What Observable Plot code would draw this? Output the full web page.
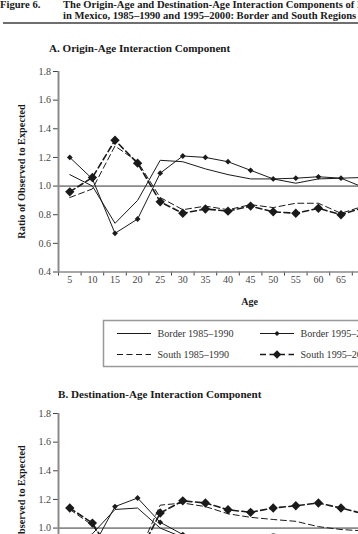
<!DOCTYPE html>
<html>
<head>
<meta charset="utf-8">
<script src="https://cdn.jsdelivr.net/npm/d3@7"></script>
<script src="https://cdn.jsdelivr.net/npm/@observablehq/plot@0.6"></script>
<style>
  html, body { margin: 0; padding: 0; background: #fff; }
  body { width: 358px; height: 534px; overflow: hidden; position: relative; font-family: "Liberation Serif", serif; }
  .panel { position: absolute; left: 0; width: 400px; }
  .panel svg { max-width: none !important; display: block; }
  #overlay { position: absolute; left: 0; top: 0; pointer-events: none; }
</style>
</head>
<body>
<div id="panelA" class="panel" style="top:60px"></div>
<div id="panelB" class="panel" style="top:401.5px"></div>
<svg id="overlay" width="358" height="534"></svg>
<script>
// Age groups (start of five-year interval)
const ages = [5, 10, 15, 20, 25, 30, 35, 40, 45, 50, 55, 60, 65, 70];
const yTicks = [0.4, 0.6, 0.8, 1.0, 1.2, 1.4, 1.6, 1.8];

// A. Origin-age interaction component (ratio of observed to expected)
const originBorder8590 = [1.08, 1.00, 0.74, 0.90, 1.18, 1.17, 1.12, 1.08, 1.05, 1.05, 1.02, 1.05, 1.055, 1.06];
const originBorder9500 = [1.20, 1.05, 0.67, 0.77, 1.09, 1.21, 1.20, 1.17, 1.11, 1.05, 1.055, 1.065, 1.055, 0.99];
const originSouth8590  = [0.92, 0.98, 1.28, 1.17, 0.92, 0.835, 0.86, 0.835, 0.87, 0.85, 0.88, 0.88, 0.81, 0.86];
const originSouth9500  = [0.96, 1.06, 1.32, 1.16, 0.89, 0.81, 0.84, 0.825, 0.86, 0.82, 0.81, 0.845, 0.80, 0.85];

// B. Destination-age interaction component
const destBorder8590 = [0.88, 0.96, 1.13, 1.14, 1.00, 0.935, 0.90, 0.90, 0.91, 0.96, 0.92, 0.91, 0.90, 0.90];
const destBorder9500 = [0.90, 0.86, 1.15, 1.21, 1.04, 0.955, 0.90, 0.88, 0.89, 0.90, 0.89, 0.88, 0.87, 0.87];
const destSouth8590  = [1.13, 1.02, 0.80, 0.81, 1.16, 1.175, 1.15, 1.10, 1.075, 1.06, 1.047, 1.01, 0.99, 0.98];
const destSouth9500  = [1.14, 1.035, 0.78, 0.80, 1.105, 1.19, 1.175, 1.128, 1.11, 1.14, 1.156, 1.175, 1.14, 1.10];

const seriesNames = ["Border 1985–1990", "Border 1995–2000", "South 1985–1990", "South 1995–2000"];

const INK = "#1a1a1a";
const AXIS = "#8a8a8a";
const DASH = "6,3.5";
const FONT = "Liberation Serif, Times New Roman, serif";

// Category boundaries: tick marks sit between the age labels
const halfStep = (ages[1] - ages[0]) / 2;
const bounds = [ages[0] - halfStep, ...ages.map(a => a + halfStep)];

function rows(values) { return ages.map((age, i) => ({age, value: values[i]})); }

// One panel; `visibleHeight` trims the SVG where the page ends
function panel(sets, visibleHeight) {
  const [b85, b95, s85, s95] = sets.map(rows);
  const top = 11, plotH = 200.5, left = 58, band = 22.6;
  const full = visibleHeight >= top + plotH + 20;
  const shownTicks = yTicks.filter(v => top + plotH * (1.8 - v) / 1.4 <= visibleHeight - 4);
  const marks = [
    Plot.ruleY([1], {stroke: "#333", strokeWidth: 1}),
    Plot.line(s85, {x: "age", y: "value", stroke: INK, strokeWidth: 1, strokeDasharray: DASH}),
    Plot.line(s95, {x: "age", y: "value", stroke: INK, strokeWidth: 1.6, strokeDasharray: DASH}),
    Plot.dot(s95, {x: "age", y: "value", symbol: "diamond2", r: 4.2, fill: INK, stroke: "none"}),
    Plot.line(b85, {x: "age", y: "value", stroke: INK, strokeWidth: 1}),
    Plot.line(b95, {x: "age", y: "value", stroke: INK, strokeWidth: 1}),
    Plot.dot(b95, {x: "age", y: "value", symbol: "diamond2", r: 2.6, fill: INK, stroke: "none"}),
    Plot.ruleX([bounds[0]], {stroke: AXIS, strokeWidth: 2})
  ];
  if (full) {
    marks.push(
      Plot.ruleY([0.4], {stroke: AXIS, strokeWidth: 1.5}),
      Plot.text(ages, {x: d => d, frameAnchor: "bottom", dy: 10.5, text: d => String(d), fill: "#444", fontSize: 10})
    );
  }
  return Plot.plot({
    width: 400,
    height: visibleHeight,
    marginTop: top,
    marginLeft: left,
    marginRight: 400 - left - 14 * band,
    marginBottom: full ? visibleHeight - top - plotH : 0,
    style: {fontFamily: FONT, fontSize: "10px", color: "#444", background: "transparent", overflow: "hidden"},
    x: {domain: [bounds[0], bounds[bounds.length - 1]], range: [left, left + 14 * band],
        ticks: full ? bounds : [], tickFormat: () => "", tickSize: 4, label: null, axis: full ? "bottom" : null},
    y: {domain: [0.4, 1.8], range: [top + plotH, top], ticks: shownTicks, tickFormat: d3.format(".1f"),
        tickSize: 5, tickPadding: 2.5, label: null},
    marks
  });
}

document.getElementById("panelA").append(panel([originBorder8590, originBorder9500, originSouth8590, originSouth9500], 250));
document.getElementById("panelB").append(panel([destBorder8590, destBorder9500, destSouth8590, destSouth9500], 534 - 401.5));

// Titles, axis titles and legend
const svg = d3.select("#overlay").style("font-family", FONT);

function label(x, y, text, opts = {}) {
  const t = svg.append("text").attr("x", x).attr("y", y).text(text)
    .attr("font-size", opts.size || 11)
    .attr("font-weight", opts.bold ? "bold" : "normal")
    .attr("fill", opts.fill || INK)
    .attr("text-anchor", opts.anchor || "start");
  if (opts.rotate) t.attr("transform", `rotate(-90 ${x} ${y})`);
  return t;
}

label(0, 7.5, "Figure 6.", {bold: true, size: 10.6});
label(63, 7.5, "The Origin-Age and Destination-Age Interaction Components of Internal Migration", {bold: true, size: 10.6});
label(63, 18.5, "in Mexico, 1985–1990 and 1995–2000: Border and South Regions", {bold: true, size: 10.6});
svg.append("line").attr("x1", 3).attr("x2", 358).attr("y1", 23).attr("y2", 23)
  .attr("stroke", "#6f6f6f").attr("stroke-width", 2);

label(49, 51.5, "A. Origin-Age Interaction Component", {bold: true, size: 11.1});
label(58, 398, "B. Destination-Age Interaction Component", {bold: true, size: 11.1});

label(24.5, 171.5, "Ratio of Observed to Expected", {bold: true, size: 10.3, anchor: "middle", rotate: true});
label(24.5, 512.5, "Ratio of Observed to Expected", {bold: true, size: 10.3, anchor: "middle", rotate: true});

label(249.7, 305, "Age", {bold: true, size: 10, anchor: "middle"});

// Legend box
svg.append("rect").attr("x", 103.5).attr("y", 320.5).attr("width", 300).attr("height", 46)
  .attr("fill", "none").attr("stroke", "#999").attr("stroke-width", 1.5);

const legendItems = [
  {name: seriesNames[0], x: 117, y: 333.5, dash: null, w: 1, marker: 0},
  {name: seriesNames[1], x: 260, y: 333.5, dash: null, w: 1, marker: 2.6},
  {name: seriesNames[2], x: 117, y: 354.5, dash: DASH, w: 1, marker: 0},
  {name: seriesNames[3], x: 260, y: 354.5, dash: DASH, w: 1.6, marker: 4.2}
];
for (const it of legendItems) {
  const ln = svg.append("line").attr("x1", it.x).attr("x2", it.x + 34).attr("y1", it.y).attr("y2", it.y)
    .attr("stroke", INK).attr("stroke-width", it.w);
  if (it.dash) ln.attr("stroke-dasharray", it.dash);
  if (it.marker) {
    const r = it.marker, cx = it.x + 17, cy = it.y;
    svg.append("path").attr("d", `M${cx},${cy - r}L${cx + r},${cy}L${cx},${cy + r}L${cx - r},${cy}Z`).attr("fill", INK);
  }
  label(it.x + 40.5, it.y + 3.5, it.name, {size: 10.1, fill: "#333"});
}
</script>
</body>
</html>
